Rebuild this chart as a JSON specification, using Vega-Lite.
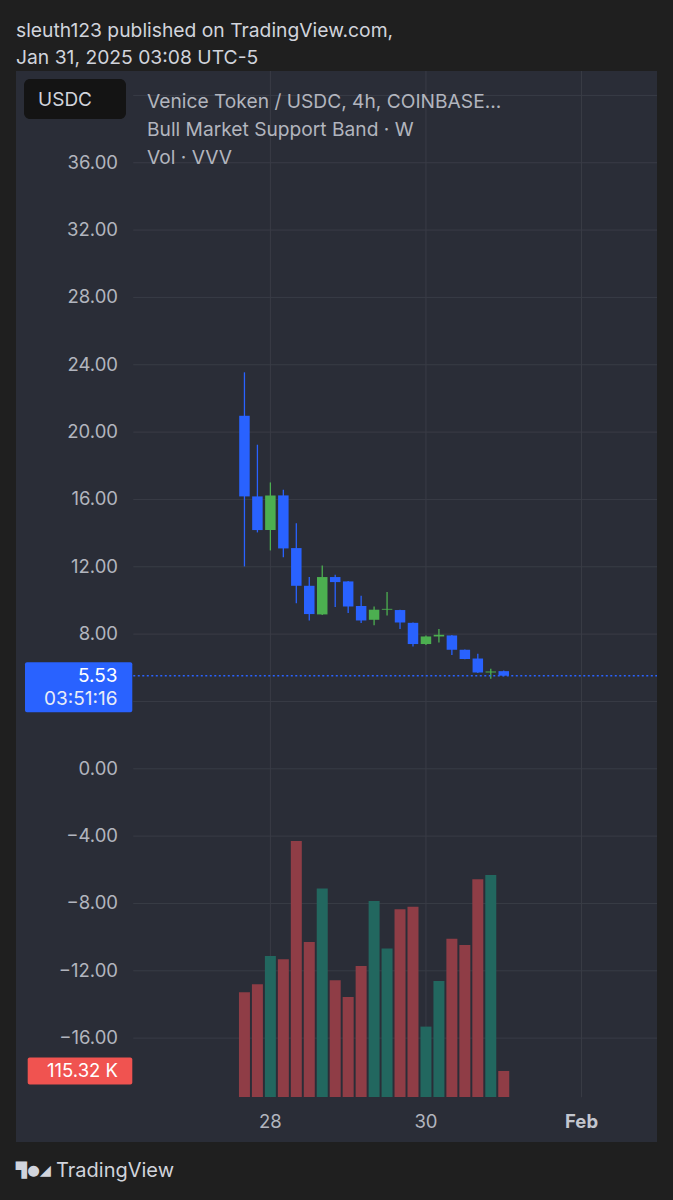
{
  "$schema": "https://vega.github.io/schema/vega-lite/v6.json",
  "width": 641,
  "height": 1071,
  "autosize": {"type": "none"},
  "padding": {"left": 16, "top": 71, "right": 16, "bottom": 58},
  "background": "#1f1f1f",
  "config": {
    "view": {"fill": "#2a2d37", "stroke": null},
    "scale": {"continuousPadding": 0},
    "font": "Inter",
    "text": {"font": "Inter"}
  },
  "title": {
    "text": ["sleuth123 published on TradingView.com,", "Jan 31, 2025 03:08 UTC-5"],
    "anchor": "start",
    "frame": "group",
    "orient": "top",
    "font": "Inter",
    "fontSize": 19.3,
    "fontWeight": "normal",
    "color": "#d1d4dc",
    "lineHeight": 27,
    "offset": 2
  },
  "datasets": {
    "candles": [
      {"t": "2025-01-27T16:00:00Z", "open": 20.97, "high": 23.55, "low": 12.02, "close": 16.18, "volume": 464000},
      {"t": "2025-01-27T20:00:00Z", "open": 16.18, "high": 19.25, "low": 14.04, "close": 14.18, "volume": 500000},
      {"t": "2025-01-28T00:00:00Z", "open": 14.18, "high": 17.01, "low": 12.97, "close": 16.24, "volume": 625000},
      {"t": "2025-01-28T04:00:00Z", "open": 16.24, "high": 16.58, "low": 12.56, "close": 13.09, "volume": 611000},
      {"t": "2025-01-28T08:00:00Z", "open": 13.11, "high": 14.58, "low": 9.84, "close": 10.87, "volume": 1135000},
      {"t": "2025-01-28T12:00:00Z", "open": 10.87, "high": 11.39, "low": 8.81, "close": 9.19, "volume": 687000},
      {"t": "2025-01-28T16:00:00Z", "open": 9.17, "high": 12.08, "low": 9.13, "close": 11.39, "volume": 924000},
      {"t": "2025-01-28T20:00:00Z", "open": 11.39, "high": 11.53, "low": 9.61, "close": 11.09, "volume": 518000},
      {"t": "2025-01-29T00:00:00Z", "open": 11.13, "high": 11.15, "low": 9.25, "close": 9.64, "volume": 443000},
      {"t": "2025-01-29T04:00:00Z", "open": 9.67, "high": 10.28, "low": 8.66, "close": 8.81, "volume": 581000},
      {"t": "2025-01-29T08:00:00Z", "open": 8.85, "high": 9.64, "low": 8.52, "close": 9.45, "volume": 869000},
      {"t": "2025-01-29T12:00:00Z", "open": 9.45, "high": 10.5, "low": 9.11, "close": 9.5, "volume": 658000},
      {"t": "2025-01-29T16:00:00Z", "open": 9.43, "high": 9.45, "low": 8.3, "close": 8.69, "volume": 832000},
      {"t": "2025-01-29T20:00:00Z", "open": 8.67, "high": 8.69, "low": 7.27, "close": 7.41, "volume": 843000},
      {"t": "2025-01-30T00:00:00Z", "open": 7.41, "high": 7.92, "low": 7.35, "close": 7.86, "volume": 312000},
      {"t": "2025-01-30T04:00:00Z", "open": 7.86, "high": 8.3, "low": 7.5, "close": 7.96, "volume": 514000},
      {"t": "2025-01-30T08:00:00Z", "open": 7.92, "high": 7.94, "low": 6.76, "close": 7.07, "volume": 701000},
      {"t": "2025-01-30T12:00:00Z", "open": 7.07, "high": 7.09, "low": 6.5, "close": 6.52, "volume": 674000},
      {"t": "2025-01-30T16:00:00Z", "open": 6.55, "high": 6.83, "low": 5.69, "close": 5.72, "volume": 965000},
      {"t": "2025-01-30T20:00:00Z", "open": 5.72, "high": 5.94, "low": 5.35, "close": 5.78, "volume": 984000},
      {"t": "2025-01-31T00:00:00Z", "open": 5.8, "high": 5.84, "low": 5.5, "close": 5.53, "volume": 115320}
    ],
    "hgrid": [
      {"v": 40}, {"v": 36}, {"v": 32}, {"v": 28}, {"v": 24}, {"v": 20}, {"v": 16}, {"v": 12},
      {"v": 8}, {"v": 4}, {"v": 0}, {"v": -4}, {"v": -8}, {"v": -12}, {"v": -16}
    ],
    "vgrid": [
      {"d": "2025-01-28T00:00:00Z", "label": "28"},
      {"d": "2025-01-30T00:00:00Z", "label": "30"},
      {"d": "2025-02-01T00:00:00Z", "label": "Feb"}
    ],
    "last": [{"close": 5.53, "countdown": "03:51:16"}],
    "lastvol": [{"volume": 115320, "label": "115.32 K"}],
    "footer": [{"brand": "TradingView", "logo": "▜●◢"}],
    "header": [{"usdc": "USDC", "legend": ["Venice Token / USDC, 4h, COINBASE...", "Bull Market Support Band · W", "Vol · VVV"]}]
  },
  "resolve": {"scale": {"y": "independent"}},
  "layer": [
    {
      "layer": [
        {
          "data": {"name": "hgrid"},
          "mark": {"type": "rule", "color": "#393c46", "strokeWidth": 1},
          "encoding": {
            "y": {"field": "v", "type": "quantitative", "scale": {"domain": [-22.17, 41.45], "nice": false, "zero": false}, "axis": null},
            "x": {"datum": {"year": 2025, "month": 1, "date": 26, "hours": 5, "minutes": 42, "utc": true}, "type": "temporal",
                  "scale": {"type": "utc", "padding": 0, "domain": [{"year": 2025, "month": 1, "date": 24, "hours": 17, "minutes": 31, "utc": true}, {"year": 2025, "month": 2, "date": 1, "hours": 23, "minutes": 17, "utc": true}]}, "axis": null},
            "x2": {"datum": {"year": 2025, "month": 2, "date": 1, "hours": 23, "minutes": 17, "utc": true}}
          }
        },
        {
          "data": {"name": "vgrid"},
          "mark": {"type": "rule", "color": "#393c46", "strokeWidth": 1},
          "encoding": {
            "x": {"field": "d", "type": "temporal",
                  "scale": {"type": "utc", "padding": 0, "domain": [{"year": 2025, "month": 1, "date": 24, "hours": 17, "minutes": 31, "utc": true}, {"year": 2025, "month": 2, "date": 1, "hours": 23, "minutes": 17, "utc": true}]}, "axis": null},
            "y": {"datum": 41.45, "type": "quantitative", "scale": {"domain": [-22.17, 41.45], "nice": false, "zero": false}, "axis": null},
            "y2": {"datum": -19.51}
          }
        }
      ]
    },
    {
      "layer": [
        {
          "data": {"name": "candles"},
          "mark": {"type": "bar", "size": 11},
          "encoding": {
            "x": {"field": "t", "type": "temporal",
                  "scale": {"type": "utc", "padding": 0, "domain": [{"year": 2025, "month": 1, "date": 24, "hours": 17, "minutes": 31, "utc": true}, {"year": 2025, "month": 2, "date": 1, "hours": 23, "minutes": 17, "utc": true}]}, "axis": null},
            "y": {"field": "volume", "type": "quantitative", "stack": null, "scale": {"domain": [-199600, 4548600], "nice": false, "zero": false}, "axis": null},
            "y2": {"datum": 0},
            "color": {"condition": {"test": "datum.close >= datum.open", "value": "#22675f"}, "value": "#8f3d46"}
          }
        },
        {
          "data": {"name": "lastvol"},
          "mark": {"type": "rect", "color": "#f05350", "cornerRadius": 2, "xOffset": 11.7, "x2Offset": 116.3, "yOffset": -13.4, "y2Offset": 13.6},
          "encoding": {
            "x": {"datum": {"year": 2025, "month": 1, "date": 24, "hours": 17, "minutes": 31, "utc": true}, "type": "temporal",
                  "scale": {"type": "utc", "padding": 0, "domain": [{"year": 2025, "month": 1, "date": 24, "hours": 17, "minutes": 31, "utc": true}, {"year": 2025, "month": 2, "date": 1, "hours": 23, "minutes": 17, "utc": true}]}, "axis": null},
            "x2": {"datum": {"year": 2025, "month": 1, "date": 24, "hours": 17, "minutes": 31, "utc": true}},
            "y": {"field": "volume", "type": "quantitative", "scale": {"domain": [-199600, 4548600], "nice": false, "zero": false}, "axis": null},
            "y2": {"field": "volume"}
          }
        },
        {
          "data": {"name": "lastvol"},
          "mark": {"type": "text", "align": "right", "baseline": "middle", "color": "#ffffff", "fontSize": 18.5, "font": "Inter", "xOffset": 102},
          "encoding": {
            "x": {"datum": {"year": 2025, "month": 1, "date": 24, "hours": 17, "minutes": 31, "utc": true}, "type": "temporal",
                  "scale": {"type": "utc", "padding": 0, "domain": [{"year": 2025, "month": 1, "date": 24, "hours": 17, "minutes": 31, "utc": true}, {"year": 2025, "month": 2, "date": 1, "hours": 23, "minutes": 17, "utc": true}]}, "axis": null},
            "y": {"field": "volume", "type": "quantitative", "scale": {"domain": [-199600, 4548600], "nice": false, "zero": false}, "axis": null},
            "text": {"field": "label"}
          }
        }
      ]
    },
    {
      "layer": [
        {
          "data": {"name": "candles"},
          "mark": {"type": "rule", "strokeWidth": 1.3},
          "encoding": {
            "x": {"field": "t", "type": "temporal",
                  "scale": {"type": "utc", "padding": 0, "domain": [{"year": 2025, "month": 1, "date": 24, "hours": 17, "minutes": 31, "utc": true}, {"year": 2025, "month": 2, "date": 1, "hours": 23, "minutes": 17, "utc": true}]}, "axis": null},
            "y": {"field": "low", "type": "quantitative", "scale": {"domain": [-22.17, 41.45], "nice": false, "zero": false}, "axis": null},
            "y2": {"field": "high"},
            "color": {"condition": {"test": "datum.close >= datum.open", "value": "#4caf50"}, "value": "#2962ff"}
          }
        },
        {
          "data": {"name": "candles"},
          "mark": {"type": "bar", "size": 10.5},
          "encoding": {
            "x": {"field": "t", "type": "temporal",
                  "scale": {"type": "utc", "padding": 0, "domain": [{"year": 2025, "month": 1, "date": 24, "hours": 17, "minutes": 31, "utc": true}, {"year": 2025, "month": 2, "date": 1, "hours": 23, "minutes": 17, "utc": true}]}, "axis": null},
            "y": {"field": "open", "type": "quantitative", "scale": {"domain": [-22.17, 41.45], "nice": false, "zero": false}, "axis": null},
            "y2": {"field": "close"},
            "color": {"condition": {"test": "datum.close >= datum.open", "value": "#4caf50"}, "value": "#2962ff"}
          }
        },
        {
          "data": {"name": "hgrid"},
          "transform": [{"filter": "datum.v != 40 && datum.v != 4"}],
          "mark": {"type": "text", "align": "right", "baseline": "middle", "color": "#b2b5be", "fontSize": 18.5, "font": "Inter", "xOffset": 102},
          "encoding": {
            "x": {"datum": {"year": 2025, "month": 1, "date": 24, "hours": 17, "minutes": 31, "utc": true}, "type": "temporal",
                  "scale": {"type": "utc", "padding": 0, "domain": [{"year": 2025, "month": 1, "date": 24, "hours": 17, "minutes": 31, "utc": true}, {"year": 2025, "month": 2, "date": 1, "hours": 23, "minutes": 17, "utc": true}]}, "axis": null},
            "y": {"field": "v", "type": "quantitative", "scale": {"domain": [-22.17, 41.45], "nice": false, "zero": false}, "axis": null},
            "text": {"field": "v", "format": ".2f"}
          }
        },
        {
          "data": {"name": "vgrid"},
          "transform": [{"filter": "datum.label != 'Feb'"}],
          "mark": {"type": "text", "align": "center", "baseline": "middle", "color": "#b2b5be", "fontSize": 18.5, "font": "Inter", "yOffset": -20},
          "encoding": {
            "x": {"field": "d", "type": "temporal",
                  "scale": {"type": "utc", "padding": 0, "domain": [{"year": 2025, "month": 1, "date": 24, "hours": 17, "minutes": 31, "utc": true}, {"year": 2025, "month": 2, "date": 1, "hours": 23, "minutes": 17, "utc": true}]}, "axis": null},
            "y": {"datum": -22.17, "type": "quantitative", "scale": {"domain": [-22.17, 41.45], "nice": false, "zero": false}, "axis": null},
            "text": {"field": "label"}
          }
        },
        {
          "data": {"name": "vgrid"},
          "transform": [{"filter": "datum.label == 'Feb'"}],
          "mark": {"type": "text", "align": "center", "baseline": "middle", "color": "#c3c6ce", "fontSize": 18.5, "fontWeight": "bold", "font": "Inter", "yOffset": -20},
          "encoding": {
            "x": {"field": "d", "type": "temporal",
                  "scale": {"type": "utc", "padding": 0, "domain": [{"year": 2025, "month": 1, "date": 24, "hours": 17, "minutes": 31, "utc": true}, {"year": 2025, "month": 2, "date": 1, "hours": 23, "minutes": 17, "utc": true}]}, "axis": null},
            "y": {"datum": -22.17, "type": "quantitative", "scale": {"domain": [-22.17, 41.45], "nice": false, "zero": false}, "axis": null},
            "text": {"field": "label"}
          }
        },
        {
          "data": {"name": "last"},
          "mark": {"type": "rule", "color": "#2962ff", "strokeWidth": 1.5, "strokeDash": [2, 2.5]},
          "encoding": {
            "y": {"field": "close", "type": "quantitative", "scale": {"domain": [-22.17, 41.45], "nice": false, "zero": false}, "axis": null},
            "x": {"datum": {"year": 2025, "month": 1, "date": 26, "hours": 5, "minutes": 42, "utc": true}, "type": "temporal",
                  "scale": {"type": "utc", "padding": 0, "domain": [{"year": 2025, "month": 1, "date": 24, "hours": 17, "minutes": 31, "utc": true}, {"year": 2025, "month": 2, "date": 1, "hours": 23, "minutes": 17, "utc": true}]}, "axis": null},
            "x2": {"datum": {"year": 2025, "month": 2, "date": 1, "hours": 23, "minutes": 17, "utc": true}}
          }
        },
        {
          "data": {"name": "last"},
          "mark": {"type": "rect", "color": "#2962ff", "cornerRadius": 2, "xOffset": 9, "x2Offset": 116.3, "yOffset": -13.5, "y2Offset": 36.5},
          "encoding": {
            "x": {"datum": {"year": 2025, "month": 1, "date": 24, "hours": 17, "minutes": 31, "utc": true}, "type": "temporal",
                  "scale": {"type": "utc", "padding": 0, "domain": [{"year": 2025, "month": 1, "date": 24, "hours": 17, "minutes": 31, "utc": true}, {"year": 2025, "month": 2, "date": 1, "hours": 23, "minutes": 17, "utc": true}]}, "axis": null},
            "x2": {"datum": {"year": 2025, "month": 1, "date": 24, "hours": 17, "minutes": 31, "utc": true}},
            "y": {"field": "close", "type": "quantitative", "scale": {"domain": [-22.17, 41.45], "nice": false, "zero": false}, "axis": null},
            "y2": {"field": "close"}
          }
        },
        {
          "data": {"name": "last"},
          "mark": {"type": "text", "align": "right", "baseline": "middle", "color": "#ffffff", "fontSize": 19, "font": "Inter", "xOffset": 101.5, "yOffset": 0.5},
          "encoding": {
            "x": {"datum": {"year": 2025, "month": 1, "date": 24, "hours": 17, "minutes": 31, "utc": true}, "type": "temporal",
                  "scale": {"type": "utc", "padding": 0, "domain": [{"year": 2025, "month": 1, "date": 24, "hours": 17, "minutes": 31, "utc": true}, {"year": 2025, "month": 2, "date": 1, "hours": 23, "minutes": 17, "utc": true}]}, "axis": null},
            "y": {"field": "close", "type": "quantitative", "scale": {"domain": [-22.17, 41.45], "nice": false, "zero": false}, "axis": null},
            "text": {"field": "close", "format": ".2f"}
          }
        },
        {
          "data": {"name": "last"},
          "mark": {"type": "text", "align": "right", "baseline": "middle", "color": "#e8ecf7", "fontSize": 19, "font": "Inter", "xOffset": 101.5, "yOffset": 23.5},
          "encoding": {
            "x": {"datum": {"year": 2025, "month": 1, "date": 24, "hours": 17, "minutes": 31, "utc": true}, "type": "temporal",
                  "scale": {"type": "utc", "padding": 0, "domain": [{"year": 2025, "month": 1, "date": 24, "hours": 17, "minutes": 31, "utc": true}, {"year": 2025, "month": 2, "date": 1, "hours": 23, "minutes": 17, "utc": true}]}, "axis": null},
            "y": {"field": "close", "type": "quantitative", "scale": {"domain": [-22.17, 41.45], "nice": false, "zero": false}, "axis": null},
            "text": {"field": "countdown"}
          }
        },
        {
          "data": {"name": "header"},
          "mark": {"type": "rect", "color": "#141414", "cornerRadius": 6, "xOffset": 8, "x2Offset": 110, "yOffset": 8, "y2Offset": 48},
          "encoding": {
            "x": {"datum": {"year": 2025, "month": 1, "date": 24, "hours": 17, "minutes": 31, "utc": true}, "type": "temporal",
                  "scale": {"type": "utc", "padding": 0, "domain": [{"year": 2025, "month": 1, "date": 24, "hours": 17, "minutes": 31, "utc": true}, {"year": 2025, "month": 2, "date": 1, "hours": 23, "minutes": 17, "utc": true}]}, "axis": null},
            "x2": {"datum": {"year": 2025, "month": 1, "date": 24, "hours": 17, "minutes": 31, "utc": true}},
            "y": {"datum": 41.45, "type": "quantitative", "scale": {"domain": [-22.17, 41.45], "nice": false, "zero": false}, "axis": null},
            "y2": {"datum": 41.45}
          }
        },
        {
          "data": {"name": "header"},
          "mark": {"type": "text", "align": "center", "baseline": "middle", "color": "#d1d4dc", "fontSize": 19, "font": "Inter", "xOffset": 49, "yOffset": 28.5},
          "encoding": {
            "x": {"datum": {"year": 2025, "month": 1, "date": 24, "hours": 17, "minutes": 31, "utc": true}, "type": "temporal",
                  "scale": {"type": "utc", "padding": 0, "domain": [{"year": 2025, "month": 1, "date": 24, "hours": 17, "minutes": 31, "utc": true}, {"year": 2025, "month": 2, "date": 1, "hours": 23, "minutes": 17, "utc": true}]}, "axis": null},
            "y": {"datum": 41.45, "type": "quantitative", "scale": {"domain": [-22.17, 41.45], "nice": false, "zero": false}, "axis": null},
            "text": {"field": "usdc"}
          }
        },
        {
          "data": {"name": "header"},
          "mark": {"type": "text", "lineHeight": 28, "align": "left", "baseline": "middle", "color": "#b2b5be", "fontSize": 19.2, "font": "Inter", "xOffset": 131, "yOffset": 31},
          "encoding": {
            "x": {"datum": {"year": 2025, "month": 1, "date": 24, "hours": 17, "minutes": 31, "utc": true}, "type": "temporal",
                  "scale": {"type": "utc", "padding": 0, "domain": [{"year": 2025, "month": 1, "date": 24, "hours": 17, "minutes": 31, "utc": true}, {"year": 2025, "month": 2, "date": 1, "hours": 23, "minutes": 17, "utc": true}]}, "axis": null},
            "y": {"datum": 41.45, "type": "quantitative", "scale": {"domain": [-22.17, 41.45], "nice": false, "zero": false}, "axis": null},
            "text": {"field": "legend"}
          }
        },
        {
          "data": {"name": "footer"},
          "mark": {"type": "text", "align": "left", "baseline": "middle", "color": "#d1d4dc", "fontSize": 20, "font": "Inter", "xOffset": 40, "yOffset": 29},
          "encoding": {
            "x": {"datum": {"year": 2025, "month": 1, "date": 24, "hours": 17, "minutes": 31, "utc": true}, "type": "temporal",
                  "scale": {"type": "utc", "padding": 0, "domain": [{"year": 2025, "month": 1, "date": 24, "hours": 17, "minutes": 31, "utc": true}, {"year": 2025, "month": 2, "date": 1, "hours": 23, "minutes": 17, "utc": true}]}, "axis": null},
            "y": {"datum": -22.17, "type": "quantitative", "scale": {"domain": [-22.17, 41.45], "nice": false, "zero": false}, "axis": null},
            "text": {"field": "brand"}
          }
        },
        {
          "data": {"name": "footer"},
          "mark": {"type": "text", "align": "left", "baseline": "middle", "color": "#d1d4dc", "fontSize": 14.5, "font": "DejaVu Sans", "fontWeight": "bold", "xOffset": 0, "yOffset": 29},
          "encoding": {
            "x": {"datum": {"year": 2025, "month": 1, "date": 24, "hours": 17, "minutes": 31, "utc": true}, "type": "temporal",
                  "scale": {"type": "utc", "padding": 0, "domain": [{"year": 2025, "month": 1, "date": 24, "hours": 17, "minutes": 31, "utc": true}, {"year": 2025, "month": 2, "date": 1, "hours": 23, "minutes": 17, "utc": true}]}, "axis": null},
            "y": {"datum": -22.17, "type": "quantitative", "scale": {"domain": [-22.17, 41.45], "nice": false, "zero": false}, "axis": null},
            "text": {"field": "logo"}
          }
        }
      ]
    }
  ]
}
